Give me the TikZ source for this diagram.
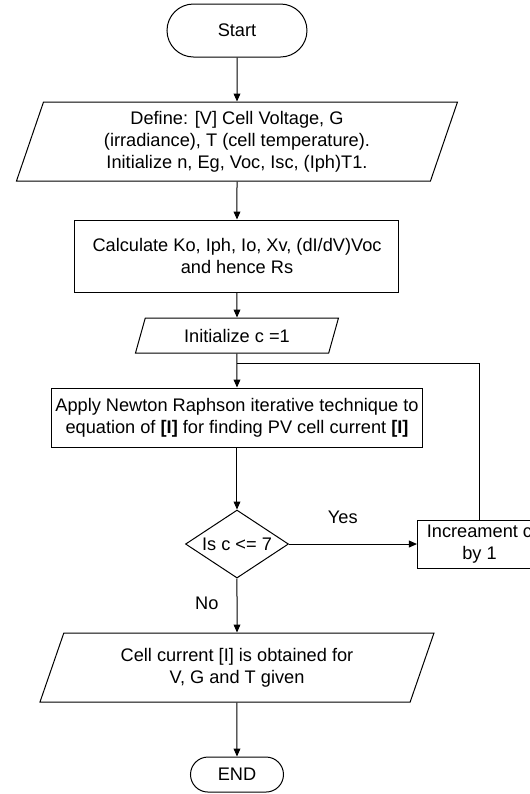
\documentclass[tikz,border=0pt]{standalone}
\usepackage{fontspec}
\setmainfont{Liberation Sans}
\usetikzlibrary{arrows.meta, shapes.geometric, positioning, calc}

\begin{document}
\begin{tikzpicture}
            [->, >={Triangle[length=4pt,width=3.4pt]}, auto, line width=0.5pt,
            font=\fontsize{9.1pt}{11pt}\selectfont,
            terminal/.style={rectangle, align=center, draw=black, inner sep=2pt},
            process/.style={rectangle, align=center, draw=black, inner sep=2pt},
            io/.style={trapezium, trapezium stretches body, align=center, draw=black, inner sep=2pt},
            decision/.style={diamond, aspect=1.5, draw=black, inner sep=0pt},
            answer/.style={inner sep=0pt}]

            \useasboundingbox (-118.5pt,15.25pt) rectangle (146.5pt,-381.75pt);

            \node[terminal, rounded corners=13.25pt, minimum width=70pt, minimum height=26.5pt] (start) {Start};
            \node[io, trapezium left angle=68.6, trapezium right angle=111.4,
                  minimum width=220.5pt, minimum height=39.5pt] (define) [below = 22pt of start]
                  {Define: [V] Cell Voltage, G\\(irradiance), T (cell temperature).\\Initialize n, Eg, Voc, Isc, (Iph)T1.};
            \node[process, minimum width=162pt, minimum height=36pt] (calc) [below = 19pt of define]
                  {Calculate Ko, Iph, Io, Xv, (dI/dV)Voc\\and hence Rs};
            \node[io, trapezium left angle=65.4, trapezium right angle=114.6,
                  minimum width=101.5pt, minimum height=17.5pt] (initc) [below = 12.5pt of calc] {Initialize c =1};
            \node[process, minimum width=185.5pt, minimum height=29.5pt] (newton) [below = 17pt of initc]
                  {Apply Newton Raphson iterative technique to\\equation of \textbf{[I]} for finding PV cell current \textbf{[I]}};
            \node[decision, minimum width=51.5pt, minimum height=34pt] (check) [below = 31pt of newton] {Is c <= 7};
            \node[process, minimum width=62pt, minimum height=24pt] (incr) [right = 64pt of check] {Increament c\\by 1};
            \node[io, trapezium left angle=63.1, trapezium right angle=116.9,
                  minimum width=197pt, minimum height=34.5pt] (result) [below = 27pt of check]
                  {Cell current [I] is obtained for\\V, G and T given};
            \node[terminal, rounded corners=8.75pt, minimum width=46.5pt, minimum height=17.5pt] (end) [below = 27pt of result] {END};

            \coordinate (join) at ($(initc.south)!0.3!(newton.north)$);

            \draw (start) edge (define);
            \draw (define) edge (calc);
            \draw (calc) edge (initc);
            \draw (initc) edge (newton);
            \draw (newton) edge (check);
            \draw (check) edge node[answer, pos=0.42, above=10pt] {Yes} (incr);
            \draw[-] (incr.north) |- (join);
            \draw (check) edge node[answer, pos=0.45, left=9pt] {No} (result);
            \draw (result) edge (end);

        \end{tikzpicture}
\end{document}
